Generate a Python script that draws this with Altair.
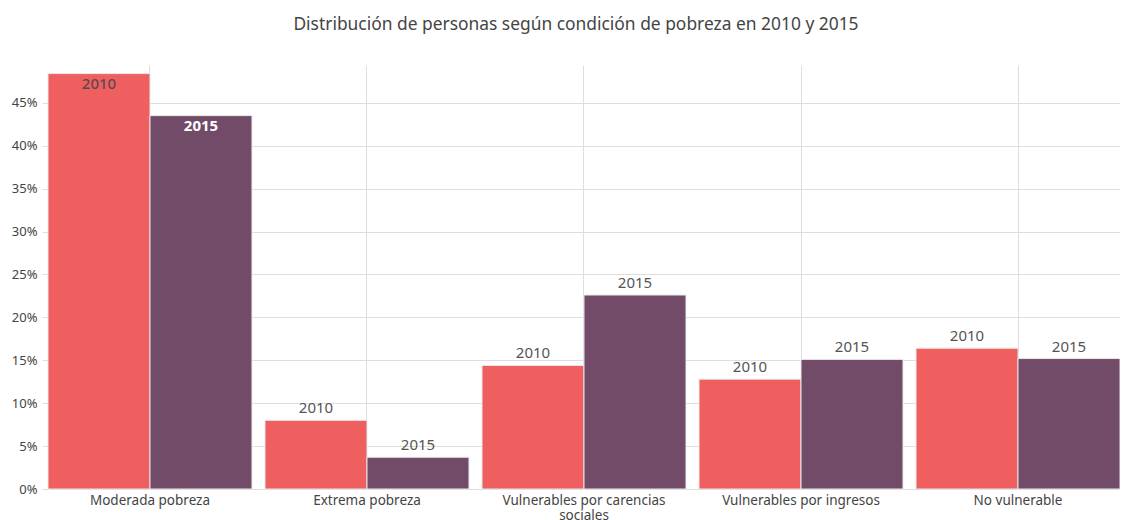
import altair as alt
import pandas as pd

categories = ["Moderada pobreza", "Extrema pobreza", "Vulnerables por carencias sociales",
              "Vulnerables por ingresos", "No vulnerable"]
values_2010 = [0.484, 0.080, 0.144, 0.128, 0.164]
values_2015 = [0.435, 0.037, 0.226, 0.151, 0.152]
years = ["2010", "2015"]
colors = ["#EF5F5F", "#724B69"]

rows = []
for c, v in zip(categories, values_2010):
    rows.append({"categoria": c, "anio": "2010", "valor": v})
for c, v in zip(categories, values_2015):
    rows.append({"categoria": c, "anio": "2015", "valor": v})
df = pd.DataFrame(rows)

FONT = "Noto Sans"
GRID = "#dedede"

x_enc = alt.X("categoria:N", sort=categories, title=None,
              scale=alt.Scale(paddingInner=0.06, paddingOuter=0.0),
              axis=alt.Axis(labelAngle=0, grid=True, gridColor=GRID, ticks=False,
                            domain=True, domainColor=GRID, labelFontSize=13.5,
                            labelColor="#444", labelFont=FONT, labelPadding=4, labelLineHeight=15,
                            labelExpr="datum.label == 'Vulnerables por carencias sociales' ? ['Vulnerables por carencias', 'sociales'] : datum.label"))
xo = alt.XOffset("anio:N", sort=years)
y_enc = alt.Y("valor:Q", title=None,
              scale=alt.Scale(domain=[0, 0.494], nice=False),
              axis=alt.Axis(format="%", values=[0, 0.05, 0.10, 0.15, 0.20, 0.25, 0.30, 0.35, 0.40, 0.45],
                            grid=True, gridColor=GRID, ticks=True, tickColor=GRID, tickSize=6,
                            domain=False, labelFontSize=13, labelColor="#444", labelFont=FONT,
                            labelPadding=5))

base = alt.Chart(df).encode(x=x_enc, xOffset=xo, y=y_enc)

bars = base.mark_bar(stroke="#e8e8e8", strokeWidth=1).encode(
    color=alt.Color("anio:N", scale=alt.Scale(domain=years, range=colors), legend=None)
)

above = base.transform_filter("datum.valor < 0.4").mark_text(
    baseline="bottom", dy=-4, fontSize=15, font=FONT, color="#555"
).encode(text="anio:N")

inside_2010 = base.transform_filter("datum.valor >= 0.4 && datum.anio == '2010'").mark_text(
    baseline="top", dy=3, fontSize=15, font=FONT, fontWeight=500, color="#5e4a4c"
).encode(text="anio:N")

inside_2015 = base.transform_filter("datum.valor >= 0.4 && datum.anio == '2015'").mark_text(
    baseline="top", dy=3, fontSize=15, font=FONT, fontWeight="bold", color="#ffffff"
).encode(text="anio:N")

chart = alt.layer(bars, above, inside_2010, inside_2015).properties(
    width=1072, height=424,
    autosize=alt.AutoSizeParams(type="none"),
    padding={"left": 40, "top": 57, "right": 0, "bottom": 40},
    title=alt.TitleParams("Distribución de personas según condición de pobreza en 2010 y 2015",
                          fontSize=17.4, font=FONT, fontWeight="normal", color="#444",
                          offset=32, dx=-8),
).configure_view(stroke=None)

chart.save("out.html", embed_options={"renderer": "svg", "actions": False})
